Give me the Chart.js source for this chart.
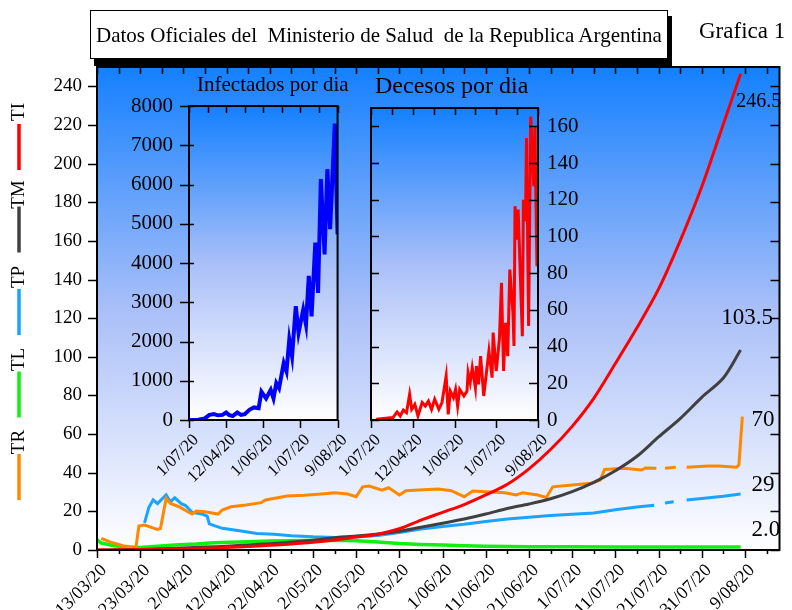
<!DOCTYPE html>
<html>
<head>
<meta charset="utf-8">
<script src="https://cdn.jsdelivr.net/npm/chart.js@4/dist/chart.umd.min.js"></script>
<style>
  body { margin: 0; width: 792px; height: 610px; overflow: hidden; background: #fff; font-family: 'Liberation Serif', 'DejaVu Serif', serif; }
  canvas { position: absolute; }
  #titulo { position: absolute; left: 90px; top: 10px; width: 578px; height: 49px; font-size: 21px;
            line-height: 51px; text-align: center; white-space: pre; z-index: 5; }
  .txt { position: absolute; white-space: pre; color: #000; z-index: 5; }
</style>
</head>
<body>
<canvas id="principal" width="792" height="610" style="left:0;top:0"></canvas>
<canvas id="infectados" width="262" height="420" style="left:100px;top:70px"></canvas>
<canvas id="decesos" width="262" height="420" style="left:320px;top:70px"></canvas>
<div id="titulo">Datos Oficiales del  Ministerio de Salud  de la Republica Argentina</div>
<div class="txt" style="left:699px;top:18px;font-size:23px">Grafica 1</div>
<div class="txt" style="left:197px;top:72px;font-size:21px">Infectados por dia</div>
<div class="txt" style="left:375px;top:72px;font-size:24px">Decesos por dia</div>
<script>
// dias contados desde el 13/03/20
const fechas = ['13/03/20', '23/03/20', '2/04/20', '12/04/20', '22/04/20', '2/05/20', '12/05/20', '22/05/20',
                '1/06/20', '11/06/20', '21/06/20', '1/07/20', '11/07/20', '21/07/20', '31/07/20', '9/08/20'];
const fechasInset = ['1/07/20', '12/04/20', '1/06/20', '1/07/20', '9/08/20'];

const series = ['TI', 'TM', 'TP', 'TL', 'TR'];
const finales = ['246.5', '103.5', '70', '29', '2.0'];

const tiDia = [0,5,10,15,20,25,30,35,40,45,50,55,60,65,70,75,80,85,90,95,100,105,110,115,120,125,130,135,140,145,149];
const tiVal = [0,0.1,0.2,0.4,0.6,0.9,1.3,1.8,2.4,3.1,4,5.2,6.7,8.2,11,15.5,19.5,23.5,28.5,34,42,52,64,78.5,96.5,115,135,160,188,220.5,246.5];

const tmDia = [0,5,10,15,20,25,30,35,40,45,50,55,60,65,70,75,80,85,90,95,100,105,110,115,120,125,130,135,140,145,149];
const tmVal = [0,0.1,0.3,0.6,1,1.5,2,2.6,3.3,4.1,5,6.3,7.2,8.3,9.7,11.8,13.8,16,18.6,21.5,23.8,26.5,30.2,35,41,48.5,58.5,68,79,89,103.5];

const tpDia = [11,12,13,14,16,17,18,19.5,20.5,22,24.5,25.5,26,29,33,37,41,45,50,55,60,65,70,75,80,85,90,95,100,105,110,115,120,125,129,130,131.5,133.5,134,136.5,140,145,149];
const tpVal = [14,22,26,24,28.5,25,27,24,23,19.5,18.5,17.5,13.5,11.2,10,8.6,8.1,7.4,6.8,6.5,6.8,7.5,9,10.8,12.2,13.3,14.8,16,17,17.8,18.5,19.2,20.8,22.2,23.2,null,24.3,25,null,25.9,26.6,27.8,29];

const tlDia = [0,1,4,7,10,14,18,23,27,33,40,48,55,60,65,70,75,80,85,90,95,100,110,120,130,140,149];
const tlVal = [5.2,3.6,2.2,1.5,1.3,2,2.6,3.1,3.7,4.2,4.6,4.9,5,4.8,4.2,3.4,2.9,2.6,2.2,2,1.8,1.7,1.7,1.6,1.6,1.6,1.6];

const trDia = [1,3,6,9,9.7,11,14,14.7,16,17,19,21,22,23,25,28,29,31,34.5,38,39,44,48,52,55,58,60,61.5,63,66,67.5,70,71.5,74.5,79,82,85,87,90,94.5,97,98.5,102,104,105.5,110,114.5,116.5,117.5,122,126,127,129.5,130,131.5,134,135,136.5,141.5,144,148,148.6,149.4];
const trVal = [6,4.2,2.2,1.2,12.4,12.9,10.7,11.2,26.7,24.1,22.4,19.8,18.6,20.2,19.8,18.6,20.7,22.4,23.3,24.5,25.9,27.9,28.3,29,29.6,29,27.6,32.7,33.1,31,32.2,28.5,30.7,31,31.6,30.7,27.6,30.5,30.2,29.6,28.5,29.6,28.5,27.2,32.7,33.6,34.5,36.2,41.7,42.3,41.4,42.4,42.3,null,42.3,42.8,null,42.8,43.5,43.5,42.8,44,69];

// graficos chicos (eje x: dias desde el primer caso)
const infDia = [0,10,17,22,27,31,36,40,43,47,52,56,60,65,70,75,78,83,88,91,94,97,102,105,108,111,115,118,123,126,129,132,136,139,142,146,149,152,157,160];
const infVal = [0,5,40,130,150,120,130,190,130,100,190,130,150,260,320,300,720,550,770,550,940,810,1450,1240,2050,1620,2900,2220,2810,2430,3670,2640,4520,3240,6140,4220,6390,4860,7550,4730];

const decDia = [5,21,25,28,31,34,37,39,42,45,49,52,55,58,61,65,68,72,74,76,79,81,83,85,89,92,93,95,97,100,101,103,105,108,113,116,117,120,123,125,127,129,131,133,136,137,138,140,141,145,146,148,149,151,153,156,157,159];
const decVal = [0.4,1.3,4.4,2.2,5.4,4,14,5.8,8.5,2.2,9.5,7.6,10.3,5.8,11.3,5.8,9.5,24,3.1,15.8,12.2,16.7,7.6,16.7,13.1,15.8,25.8,20.4,28.5,17.6,29.4,19.4,34.8,13.1,37.6,23.1,47.6,26.7,43.9,74.8,26.7,53,34.8,82,58.4,40.3,116.5,98.3,114.7,45.7,120,108.3,153.7,51.2,165.4,127.4,160,83.8];

const colores = ['#ff0000', '#404040', '#1aa3ff', '#11ee11', '#ff8800'];
const fuente = 'Liberation Serif';

function puntos(xs, ys) {
    return xs.map((x, i) => ({x: x, y: ys[i]}));
}

const fondo = {
    id: 'fondo',
    beforeDraw(chart) {
        const ctx = chart.ctx, a = chart.chartArea;
        const g = ctx.createLinearGradient(0, a.top, 0, a.bottom);
        g.addColorStop(0, '#1480ff');
        g.addColorStop(0.5, '#a9bff8');
        g.addColorStop(1, '#ffffff');
        ctx.save();
        ctx.fillStyle = g;
        ctx.fillRect(a.left, a.top, a.width, a.height);
        ctx.restore();
    }
};

// recuadro del titulo con su sombra
const caja = {
    id: 'caja',
    afterDraw(chart) {
        const ctx = chart.ctx;
        ctx.save();
        ctx.fillStyle = 'rgb(0,0,0)';
        ctx.beginPath();
        ctx.rect(94, 16, 578, 50);
        ctx.fill();
        ctx.fillStyle = 'rgb(255,255,255)';
        ctx.fillRect(90, 10, 578, 49);
        ctx.strokeStyle = 'rgb(0,0,0)';
        ctx.lineWidth = 1;
        ctx.strokeRect(90.5, 10.5, 577, 48);
        ctx.restore();
    }
};

// marco negro y rayitas de los ejes
const marcas = {
    id: 'marcas',
    afterDraw(chart, args, opts) {
        const ctx = chart.ctx, a = chart.chartArea;
        ctx.save();
        ctx.strokeStyle = '#000';
        ctx.lineWidth = 1.5;
        ctx.beginPath();
        opts.lados.forEach(s => {
            const escala = chart.scales[s.eje];
            escala.ticks.forEach(t => {
                const L = s.largo(t.value);
                if (!L) return;
                const p = Math.round(escala.getPixelForValue(t.value)) + 0.5;
                const d = s.fuera ? L : -L;
                if (s.lado === 'bottom') { ctx.moveTo(p, a.bottom); ctx.lineTo(p, a.bottom + d); }
                if (s.lado === 'top') { ctx.moveTo(p, a.top); ctx.lineTo(p, a.top - d); }
                if (s.lado === 'left') { ctx.moveTo(a.left, p); ctx.lineTo(a.left - d, p); }
                if (s.lado === 'right') { ctx.moveTo(a.right, p); ctx.lineTo(a.right + d, p); }
            });
        });
        ctx.stroke();
        ctx.lineWidth = 2;
        ctx.strokeRect(a.left, a.top, a.width, a.height);
        ctx.restore();
    }
};

// leyenda vertical a la izquierda y valores finales a la derecha
const rotulos = {
    id: 'rotulos',
    afterDraw(chart) {
        const ctx = chart.ctx, y = chart.scales.y, x = chart.scales.x;
        ctx.save();
        ctx.fillStyle = '#000';
        series.forEach((s, i) => {
            const base = 103 + i * 82.5;
            ctx.save();
            ctx.translate(19, base + 9);
            ctx.rotate(-Math.PI / 2);
            ctx.font = '19px ' + fuente;
            ctx.textAlign = 'center';
            ctx.textBaseline = 'middle';
            ctx.fillText(s, 0, 0);
            ctx.restore();
            ctx.strokeStyle = colores[i];
            ctx.lineWidth = 3.5;
            ctx.beginPath();
            ctx.moveTo(19, base + 21);
            ctx.lineTo(19, base + 67);
            ctx.stroke();
        });
        const alturas = [232, 120, 67.5, 33.8, 10.3];
        const desde = [148, 144.5, 151.5, 151.5, 151.5];
        const tam = [20, 23, 23, 23, 23];
        ctx.textBaseline = 'middle';
        ctx.textAlign = 'left';
        finales.forEach((t, i) => {
            ctx.font = tam[i] + 'px ' + fuente;
            ctx.fillText(t, x.getPixelForValue(desde[i]), y.getPixelForValue(alturas[i]));
        });
        ctx.restore();
    }
};

const linea = (label, data, i, orden) => ({
    label: label, data: data, borderColor: colores[i], borderWidth: i === 3 ? 3.5 : 3,
    pointRadius: 0, tension: i < 2 ? 0.3 : 0, fill: false, order: orden
});

const sinGrilla = {display: false, drawTicks: false};

new Chart(document.getElementById('principal'), {
    type: 'line',
    data: {
        datasets: [
            linea('TI', puntos(tiDia, tiVal), 0, 0),
            linea('TM', puntos(tmDia, tmVal), 1, 1),
            linea('TP', puntos(tpDia, tpVal), 2, 3),
            linea('TL', puntos(tlDia, tlVal), 3, 4),
            linea('TR', puntos(trDia, trVal), 4, 2)
        ]
    },
    options: {
        responsive: false,
        animation: false,
        layout: {padding: {top: 67, right: 10, left: 0, bottom: 0}},
        plugins: {
            legend: {display: false},
            tooltip: {enabled: false},
            marcas: {lados: [
                {eje: 'x', lado: 'bottom', fuera: true, largo: v => v % 10 === 0 ? 8 : 4},
                {eje: 'x', lado: 'top', fuera: false, largo: v => 7},
                {eje: 'y', lado: 'left', fuera: true, largo: v => v % 20 === 0 ? 9 : 6},
                {eje: 'y', lado: 'right', fuera: false, largo: v => v % 20 === 0 ? 9 : 6}
            ]}
        },
        scales: {
            x: {
                type: 'linear', min: 0, max: 158,
                afterFit: s => { s.height = 60; },
                grid: sinGrilla, border: {display: false},
                ticks: {
                    stepSize: 5, includeBounds: false, autoSkip: false, minRotation: 45, maxRotation: 45,
                    padding: 10, labelOffset: 7, color: '#000', font: {family: fuente, size: 18},
                    callback: v => v % 10 === 0 ? fechas[v / 10] : ''
                }
            },
            y: {
                min: 0, max: 250,
                afterFit: s => { s.width = 97; },
                grid: sinGrilla, border: {display: false},
                ticks: {
                    stepSize: 10, padding: 15, color: '#000', font: {family: fuente, size: 19},
                    callback: v => (v % 20 === 0 && v <= 240) ? v : ''
                }
            }
        }
    },
    plugins: [fondo, marcas, rotulos, caja]
});

function inset(id, data, color, ancho, yCfg, lados, pad) {
    return new Chart(document.getElementById(id), {
        type: 'line',
        data: {datasets: [{data: data, borderColor: color, borderWidth: ancho, pointRadius: 0, tension: 0, fill: false}]},
        options: {
            responsive: false,
            animation: false,
            layout: {padding: pad},
            plugins: {legend: {display: false}, tooltip: {enabled: false}, marcas: {lados: lados}},
            scales: {
                x: {
                    type: 'linear', min: 0, max: 160,
                    afterFit: s => { s.height = 70; },
                    grid: sinGrilla, border: {display: false},
                    ticks: {
                        stepSize: 20, includeBounds: false, autoSkip: false, minRotation: 45, maxRotation: 45,
                        padding: 10, labelOffset: 7, color: '#000', font: {family: fuente, size: 17},
                        callback: v => v % 40 === 0 ? fechasInset[v / 40] : ''
                    }
                },
                y: yCfg
            }
        },
        plugins: [fondo, marcas]
    });
}

inset('infectados', puntos(infDia, infVal), '#0000ff', 4, {
    min: 0, max: 8000,
    afterFit: s => { s.width = 89; },
    grid: sinGrilla, border: {display: false},
    ticks: {stepSize: 500, padding: 16, color: '#000', font: {family: fuente, size: 21},
            callback: v => v % 1000 === 0 ? v : ''}
}, [
    {eje: 'x', lado: 'bottom', fuera: true, largo: v => v % 40 === 0 ? 8 : 0},
    {eje: 'x', lado: 'top', fuera: false, largo: v => 7},
    {eje: 'y', lado: 'left', fuera: false, largo: v => 5},
    {eje: 'y', lado: 'left', fuera: true, largo: v => v % 1000 === 0 ? 9 : 0}
], {top: 36, right: 7, left: 0, bottom: 0});

inset('decesos', puntos(decDia, decVal), '#ff0000', 3, {
    position: 'right', min: 0, max: 170,
    afterFit: s => { s.width = 44; },
    grid: sinGrilla, border: {display: false},
    ticks: {stepSize: 10, padding: 9, color: '#000', font: {family: fuente, size: 21},
            callback: v => (v % 20 === 0 && v <= 160) ? v : ''}
}, [
    {eje: 'x', lado: 'bottom', fuera: true, largo: v => v % 40 === 0 ? 8 : 0},
    {eje: 'x', lado: 'top', fuera: false, largo: v => 7},
    {eje: 'y', lado: 'left', fuera: false, largo: v => 8},
    {eje: 'y', lado: 'right', fuera: false, largo: v => 9}
], {top: 38, right: 0, left: 51, bottom: 0});
</script>
</body>
</html>
